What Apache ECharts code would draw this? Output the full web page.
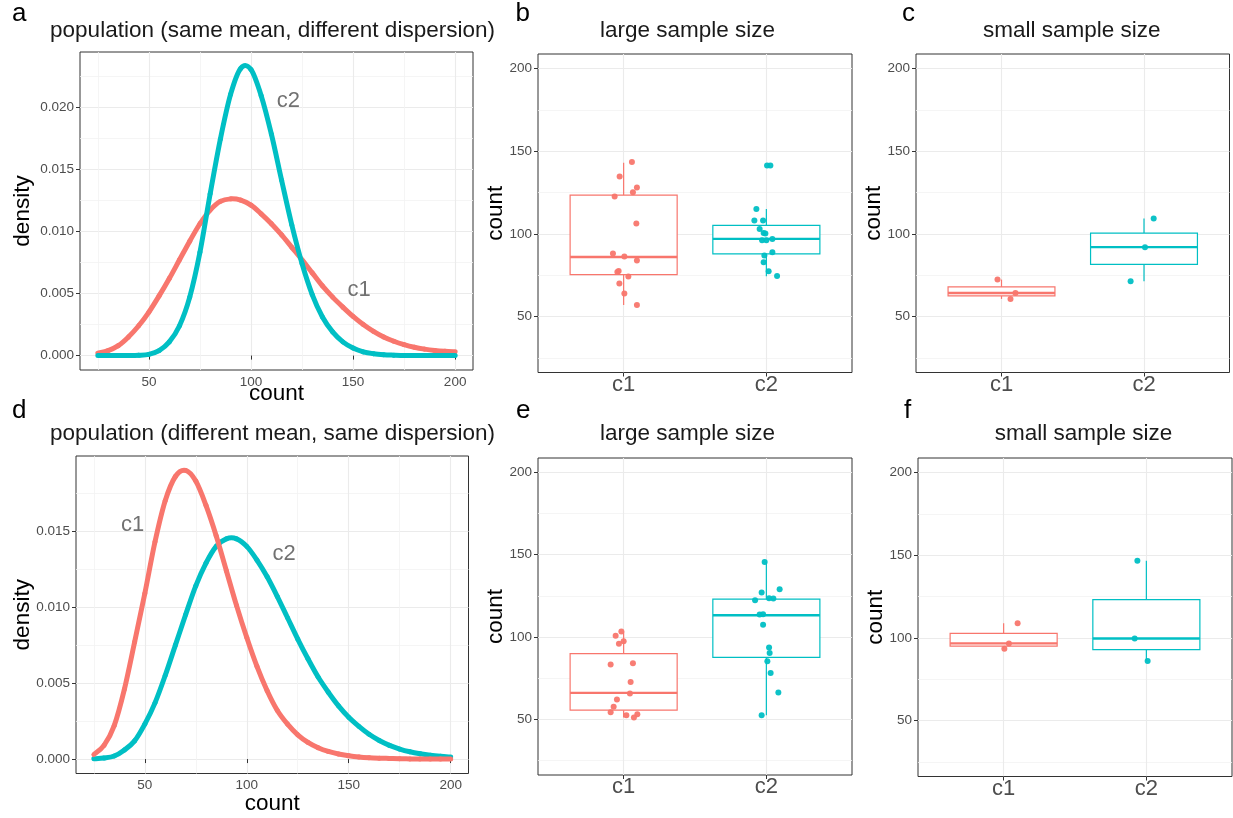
<!DOCTYPE html>
<html>
<head>
<meta charset="utf-8">
<script src="https://cdn.jsdelivr.net/npm/echarts@6/dist/echarts.min.js"></script>
<style>
  html, body { margin: 0; padding: 0; background: #fff; }
  #main { width: 1233px; height: 818px; }
</style>
</head>
<body>
<div id="main"></div>
<script>
// density curves (x = count)
var counts = [25,30,35,40,45,50,55,60,65,70,75,80,85,90,95,100,105,110,115,120,
  125,130,135,140,145,150,155,160,165,170,175,180,185,190,195,200];
// panel a: same mean, different dispersion
var densA_c1 = [0.0002,0.0004,0.0008,0.0015,0.0024,0.0035,0.0048,0.0062,0.0077,0.0092,
  0.0106,0.0117,0.0124,0.0126,0.0125,0.0121,0.0114,0.0106,0.0097,0.0087,
  0.0077,0.00665,0.0056,0.0047,0.0039,0.00315,0.0025,0.00195,0.0015,0.00115,
  0.00088,0.00067,0.00052,0.00041,0.00034,0.0003];
var densA_c2 = [0,0,0,0,0.00002,0.0001,0.0004,0.0011,0.0024,0.0047,
  0.0083,0.0130,0.0174,0.0210,0.0231,0.0230,0.0209,0.0178,0.0141,0.0105,
  0.0074,0.0049,0.0031,0.0019,0.0011,0.0006,0.0003,0.00015,0.00007,0.00003,
  0,0,0,0,0,0];
// panel d: different mean, same dispersion
var densD_c1 = [0.0003,0.0009,0.0022,0.0046,0.0077,0.0109,0.0143,0.0170,0.0186,0.0190,
  0.0183,0.0167,0.0147,0.0124,0.0101,0.0080,0.0061,0.0045,0.0032,0.0023,
  0.0016,0.0011,0.00075,0.0005,0.00033,0.00022,0.00014,0.00009,0.00006,0.00004,
  0.00002,0.00001,0,0,0,0];
var densD_c2 = [0.00002,0.00007,0.0002,0.0006,0.0012,0.0023,0.0037,0.0055,0.0075,0.0095,
  0.0114,0.0129,0.0140,0.0145,0.0145,0.0140,0.0131,0.0120,0.0107,0.0093,
  0.0079,0.0066,0.0054,0.0044,0.0035,0.00275,0.00215,0.00163,0.00122,0.0009,
  0.00066,0.00048,0.00035,0.00025,0.00018,0.00013];
var labelsA = [['c2', 118.3, 0.0205], ['c1', 153, 0.0053]];
var labelsD = [['c1', 44, 0.0154], ['c2', 118.3, 0.0135]];

// samples: [jittered x position, count]; boxes: [low, q1, median, q3, high]
var groups = ['c1', 'c2'];
var ptsB_c1 = [[1.058,143.5],[0.972,134.7],[1.093,128],[1.065,125.2],[0.937,122.6],[1.089,106.3],
  [0.925,88.1],[1.005,86.3],[1.093,83.9],[0.965,77.6],[0.956,77],[1.033,74.2],[0.970,70],[1.005,64],[1.093,57]];
var ptsB_c2 = [[2.005,141.3],[2.028,141.3],[1.93,115.1],[1.916,108.1],[1.977,108.1],[1.953,103],
  [1.981,100.6],[1.993,100.2],[1.97,96.2],[2.0,96.2],[2.042,97],[1.986,86.9],[2.042,88.9],[1.981,82.9],
  [2.016,77.4],[2.075,74.6]];
var boxB = [[57,75.4,86.1,123.4,143], [74.4,87.9,97,105.2,115.1]];

var ptsC_c1 = [[0.972,72.4],[1.098,64.3],[1.063,60.7]];
var ptsC_c2 = [[2.068,109.3],[2.007,92],[1.906,71.4]];
var boxC = [[60.7,62.6,64.3,68,72.4], [71.4,81.6,92,100.5,109.3]];

var ptsE_c1 = [[0.984,103.4],[0.944,100.8],[1.0,97.4],[0.967,96],[1.065,84.1],[0.909,83.3],[1.049,72.8],
  [1.044,65.7],[0.953,62.1],[0.93,57.7],[0.909,54.4],[1.019,52.6],[1.096,53.2],[1.072,51.2]];
var ptsE_c2 = [[1.988,145.6],[2.093,129],[1.967,127],[1.921,122.4],[2.019,123.6],[2.049,123.4],
  [1.953,113.7],[1.977,113.9],[1.977,107.5],[2.019,93.7],[2.023,90.3],[2.007,85.3],[2.03,78.2],
  [2.084,66.3],[1.967,52.6]];
var boxE = [[51.2,55.6,66.1,89.9,103.4], [52.6,87.7,113.3,123,145.6]];

var ptsF_c1 = [[1.098,108.8],[1.037,96.7],[1.005,93.5]];
var ptsF_c2 = [[1.937,146.6],[1.918,99.7],[2.009,86.1]];
var boxF = [[93.5,95.1,96.7,102.7,108.8], [86.1,92.9,99.7,123.1,146.6]];

var countTicks = [50, 100, 150, 200];
var countMinor = [25, 75, 125, 175];
var densTicksA = [0, 0.005, 0.010, 0.015, 0.020];
var densMinorA = [0.0025, 0.0075, 0.0125, 0.0175, 0.0225];
var densTicksD = [0, 0.005, 0.010, 0.015];
var densMinorD = [0.0025, 0.0075, 0.0125, 0.0175];

var FONT = '"Liberation Sans", Arial, Helvetica, sans-serif';
var RED = '#F8766D', CYAN = '#00BFC4';

var chart = echarts.init(document.getElementById('main'));

var grids = [
  {left: 80, top: 52, width: 393, height: 318},
  {left: 538, top: 54, width: 314, height: 318.5},
  {left: 916, top: 54, width: 313.5, height: 318.5},
  {left: 76, top: 456, width: 392.5, height: 317.5},
  {left: 538, top: 458, width: 314, height: 317},
  {left: 918, top: 458, width: 314, height: 318.5}
];
grids.forEach(function (g) {
  g.show = true; g.borderColor = '#333'; g.borderWidth = 1; g.backgroundColor = '#fff';
});

var xAxes = [], yAxes = [];

function mainAxis(dim, gi, range, ticks, fmt, name, gap, labelSize, margin) {
  return {
    type: 'value', gridIndex: gi, min: range[0], max: range[1],
    position: dim === 'x' ? 'bottom' : 'left',
    axisLine: {show: false},
    axisTick: {show: true, length: 4, customValues: ticks, lineStyle: {color: '#333', width: 1}},
    axisLabel: {customValues: ticks, formatter: fmt, color: '#4D4D4D', fontSize: labelSize,
      margin: margin, fontFamily: FONT},
    splitLine: {show: true, lineStyle: {color: '#EBEBEB', width: 1.1}},
    name: name, nameLocation: 'middle', nameGap: gap, nameMoveOverlap: false,
    nameTextStyle: {color: '#000', fontSize: 22.5, fontFamily: FONT}
  };
}
function minorAxis(dim, gi, range, ticks) {
  return {
    type: 'value', gridIndex: gi, min: range[0], max: range[1],
    position: dim === 'x' ? 'bottom' : 'left',
    axisLine: {show: false},
    axisTick: {show: false, customValues: ticks},
    axisLabel: {show: false, customValues: ticks},
    splitLine: {show: true, lineStyle: {color: '#F2F2F2', width: 0.8}}
  };
}
function numFmt(v) { return String(Math.round(v)); }
function densFmt(v) { return v.toFixed(3); }
function catFmt(v) { return groups[Math.round(v) - 1]; }

var countRange = [16.25, 208.75];
function addDensityAxes(gi, yRange, yTicks, yMinor, xGap, yGap) {
  xAxes.push(mainAxis('x', gi, countRange, countTicks, numFmt, 'count', xGap, 13.5, 5));
  xAxes.push(minorAxis('x', gi, countRange, countMinor));
  yAxes.push(mainAxis('y', gi, yRange, yTicks, densFmt, 'density', yGap, 13.5, 6));
  yAxes.push(minorAxis('y', gi, yRange, yMinor));
}
function addBoxAxes(gi) {
  xAxes.push(mainAxis('x', gi, [0.4, 2.6], [1, 2], catFmt, '', 0, 22, 1));
  xAxes.push(minorAxis('x', gi, [0.4, 2.6], []));
  yAxes.push(mainAxis('y', gi, countRange, countTicks, numFmt, 'count', 31, 13.5, 6));
  yAxes.push(minorAxis('y', gi, countRange, countMinor));
}

addDensityAxes(0, [-0.00116, 0.02441], densTicksA, densMinorA, 12.5, 46);
addBoxAxes(1);
addBoxAxes(2);
addDensityAxes(3, [-0.00095, 0.01995], densTicksD, densMinorD, 19, 42);
addBoxAxes(4);
addBoxAxes(5);

var series = [];

// smooth density curve: one Catmull-Rom segment per data point, placed with api.coord
function densLine(gi, ys, color, z) {
  var n = counts.length;
  series.push({
    type: 'custom', xAxisIndex: gi * 2, yAxisIndex: gi * 2, z: z, silent: true,
    data: counts.map(function (c, i) { return [c, ys[i]]; }),
    encode: {x: 0, y: 1},
    renderItem: function (params, api) {
      var i = params.dataIndex;
      if (i >= n - 1) return null;
      function pt(j) {
        j = Math.max(0, Math.min(n - 1, j));
        return api.coord([counts[j], ys[j]]);
      }
      var p0 = pt(i - 1), p1 = pt(i), p2 = pt(i + 1), p3 = pt(i + 2);
      return {
        type: 'bezierCurve',
        shape: {
          x1: p1[0], y1: p1[1], x2: p2[0], y2: p2[1],
          cpx1: p1[0] + (p2[0] - p0[0]) / 6, cpy1: p1[1] + (p2[1] - p0[1]) / 6,
          cpx2: p2[0] - (p3[0] - p1[0]) / 6, cpy2: p2[1] - (p3[1] - p1[1]) / 6
        },
        style: {stroke: color, lineWidth: 5, fill: null, lineCap: 'round'}
      };
    }
  });
}
function curveLabels(gi, labels) {
  series.push({
    type: 'scatter', xAxisIndex: gi * 2, yAxisIndex: gi * 2, z: 10, silent: true,
    symbolSize: 1, itemStyle: {color: 'rgba(0,0,0,0)'},
    data: labels.map(function (l) { return {value: [l[1], l[2]], name: l[0]}; }),
    label: {show: true, position: 'inside', formatter: '{b}', color: '#4D4D4D',
      fontSize: 22, fontFamily: FONT}
  });
}

function boxItem(params, api) {
  var x = api.value(0);
  var lo = api.coord([x, api.value(1)]);
  var q1 = api.coord([x, api.value(2)]);
  var md = api.coord([x, api.value(3)]);
  var q3 = api.coord([x, api.value(4)]);
  var hi = api.coord([x, api.value(5)]);
  var half = api.size([0.75, 0])[0] / 2;
  var color = api.visual('color');
  var thin = {stroke: color, lineWidth: 1.2, fill: null};
  return {
    type: 'group',
    children: [
      {type: 'line', shape: {x1: hi[0], y1: hi[1], x2: q3[0], y2: q3[1]}, style: thin},
      {type: 'line', shape: {x1: q1[0], y1: q1[1], x2: lo[0], y2: lo[1]}, style: thin},
      {type: 'rect', shape: {x: md[0] - half, y: q3[1], width: half * 2, height: q1[1] - q3[1]},
        style: {stroke: color, lineWidth: 1.2, fill: '#fff'}},
      {type: 'line', shape: {x1: md[0] - half, y1: md[1], x2: md[0] + half, y2: md[1]},
        style: {stroke: color, lineWidth: 2.4}}
    ]
  };
}
function boxPanel(gi, boxes, p1, p2) {
  [RED, CYAN].forEach(function (color, k) {
    series.push({
      type: 'custom', xAxisIndex: gi * 2, yAxisIndex: gi * 2, z: 3,
      renderItem: boxItem, itemStyle: {color: color},
      encode: {x: 0, y: [1, 2, 3, 4, 5]},
      data: [[k + 1].concat(boxes[k])]
    });
    series.push({
      type: 'scatter', xAxisIndex: gi * 2, yAxisIndex: gi * 2, z: 4,
      symbolSize: 6, itemStyle: {color: color, opacity: 0.95},
      data: k === 0 ? p1 : p2
    });
  });
}

densLine(0, densA_c1, RED, 3);
densLine(0, densA_c2, CYAN, 4);
curveLabels(0, labelsA);
boxPanel(1, boxB, ptsB_c1, ptsB_c2);
boxPanel(2, boxC, ptsC_c1, ptsC_c2);
densLine(3, densD_c2, CYAN, 3);
densLine(3, densD_c1, RED, 4);
curveLabels(3, labelsD);
boxPanel(4, boxE, ptsE_c1, ptsE_c2);
boxPanel(5, boxF, ptsF_c1, ptsF_c2);

function txt(s, x, y, size, color, align) {
  return {type: 'text', x: x, y: y, silent: true,
    style: {text: s, fontSize: size, fontFamily: FONT, fill: color,
      align: align, verticalAlign: 'middle'}};
}
var graphics = [
  txt('a', 12, 13.5, 26, '#000', 'left'),
  txt('b', 515.5, 13.5, 26, '#000', 'left'),
  txt('c', 902, 13.5, 26, '#000', 'left'),
  txt('d', 12, 411, 26, '#000', 'left'),
  txt('e', 516, 411, 26, '#000', 'left'),
  txt('f', 904, 411, 26, '#000', 'left'),
  txt('population (same mean, different dispersion)', 272.5, 31, 22.5, '#1A1A1A', 'center'),
  txt('large sample size', 687.5, 30.5, 22.5, '#1A1A1A', 'center'),
  txt('small sample size', 1071.7, 30.5, 22.5, '#1A1A1A', 'center'),
  txt('population (different mean, same dispersion)', 272.5, 433.5, 22.5, '#1A1A1A', 'center'),
  txt('large sample size', 687.5, 433.5, 22.5, '#1A1A1A', 'center'),
  txt('small sample size', 1083.5, 433.5, 22.5, '#1A1A1A', 'center')
];

chart.setOption({
  animation: false,
  backgroundColor: '#fff',
  grid: grids,
  xAxis: xAxes,
  yAxis: yAxes,
  series: series,
  graphic: graphics
});
</script>
</body>
</html>
